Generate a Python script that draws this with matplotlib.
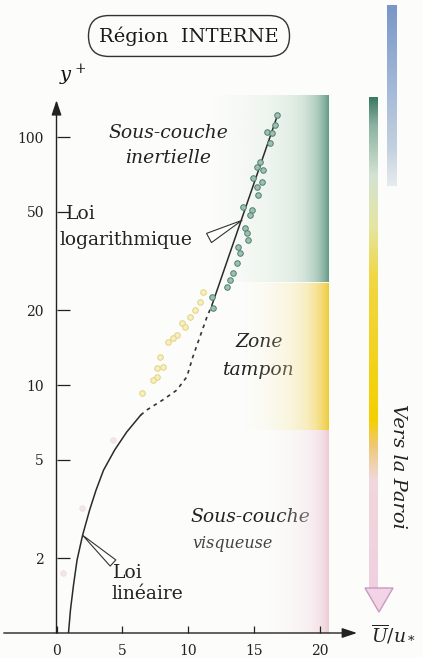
import numpy as np
import matplotlib
matplotlib.use('Agg')
from matplotlib import pyplot as plt
from matplotlib.patches import Polygon
from matplotlib.colors import to_rgb

plt.rcParams['font.family'] = ['DejaVu Serif']
plt.rcParams['mathtext.fontset'] = 'dejavuserif'

# profil : loi lineaire (trait plein)
lin_u = [0.91, 1.06, 1.29, 1.56, 1.98, 2.51, 3.00, 3.57, 4.41, 5.32, 6.39]
lin_y = [1.0, 1.24, 1.56, 1.97, 2.48, 3.13, 3.77, 4.54, 5.47, 6.46, 7.57]
# raccord zone tampon (pointilles)
buf_u = [6.39, 6.84, 8.06, 9.13, 9.89, 10.34, 10.87, 11.41, 11.79]
buf_y = [7.57, 7.93, 8.71, 9.55, 10.8, 12.97, 15.6, 18.8, 21.0]
# loi logarithmique
log_u = [11.79, 16.73]
log_y = [21.0, 121.0]

# mesures (sous-couche inertielle)
green_u = [16.73, 16.58, 15.97, 16.35, 16.20, 15.44, 15.21, 15.67, 14.90, 15.59, 15.21,
           15.29, 14.14, 14.83, 14.68, 14.30, 14.45, 14.52, 13.76, 13.92, 13.69, 13.38,
           13.16, 12.93, 11.79, 11.86]
green_y = [122.7, 111.8, 104.8, 103.8, 94.6, 79.3, 75.7, 73.6, 68.3, 65.9, 62.9,
           58.4, 52.2, 50.8, 48.5, 42.9, 41.0, 38.5, 36.0, 34.0, 31.0, 28.3,
           26.5, 24.8, 22.6, 20.4]
# mesures (zone tampon)
yellow_u = [11.10, 10.87, 10.49, 10.11, 9.51, 9.73, 9.13, 8.82, 8.44, 7.83, 8.06, 7.60, 7.60, 7.30, 6.46]
yellow_y = [23.7, 21.6, 20.1, 18.8, 17.8, 17.1, 15.9, 15.5, 14.9, 13.0, 11.8, 11.7, 10.8, 10.5, 9.3]
# mesures (sous-couche visqueuse)
pink_u = [1.90, 0.46, 4.26]
pink_y = [3.19, 1.75, 6.0]

zone_y = [1.0, 6.6, 26.0, 148.0]
xticks = [0, 5, 10, 15, 20]
yticks = [2, 5, 10, 20, 50, 100]

W, H = 423, 658
fig = plt.figure(figsize=(W / 100, H / 100), dpi=100)
fig.patch.set_facecolor('#fcfcfa')

# calque en pixels pour le decor
deco = fig.add_axes([0, 0, 1, 1])
deco.set_xlim(0, W)
deco.set_ylim(H, 0)
deco.axis('off')


def vgrad(ax, x0, x1, y0, y1, stops, alpha_stops):
    pos = np.linspace(y0, y1, 300)
    img = np.zeros((300, 1, 4))
    sp = [s[0] for s in stops]
    cols = np.array([to_rgb(s[1]) for s in stops])
    for k in range(3):
        img[:, 0, k] = np.interp(pos, sp, cols[:, k])
    img[:, 0, 3] = np.interp(pos, [a[0] for a in alpha_stops], [a[1] for a in alpha_stops])
    ax.imshow(img, extent=[x0, x1, y1, y0], aspect='auto', origin='upper',
              interpolation='bilinear', zorder=1)


vgrad(deco, 387, 397, 5, 186,
      [(5, '#7896c8'), (90, '#9fb5d6'), (186, '#d0dae2')],
      [(5, 1.0), (150, 0.9), (186, 0.5)])
vgrad(deco, 369, 378, 97, 588,
      [(97, '#3c7a62'), (125, '#8db3a2'), (175, '#d4e2d2'), (225, '#e4e6a4'),
       (275, '#f0d745'), (420, '#f4d000'), (445, '#efc872'), (480, '#f1d8dc'), (588, '#efd0e0')],
      [(97, 1.0), (588, 1.0)])
deco.add_patch(Polygon([[365, 588], [393, 588], [379, 612]], closed=True,
                       fc='#f3d4e6', ec='#c89ac0', lw=1.0, zorder=2))

deco.text(398, 466, 'Vers la Paroi', rotation=-90, style='italic', fontsize=14,
          ha='center', va='center', color='#222222')
deco.text(371, 634, r'$\overline{U}/u_*$', fontsize=13.5, ha='left', va='center', color='#222222')
deco.text(189, 36, 'Région  INTERNE', fontsize=14, ha='center', va='center', color='#1a1a1a',
          bbox=dict(boxstyle='round,pad=0.55,rounding_size=1.05', fc='none', ec='#333333', lw=1.0))
deco.text(73, 75, r'$y^+$', fontsize=14, ha='center', va='center', color='#111111')

txt = dict(fontsize=13.5, color='#222222', va='center')
deco.text(168, 133, 'Sous-couche', style='italic', ha='center', **txt)
deco.text(168, 158, 'inertielle', style='italic', ha='center', **txt)
deco.text(66, 214, 'Loi', ha='left', **txt)
deco.text(60, 240, 'logarithmique', ha='left', **txt)
deco.text(259, 342, 'Zone', style='italic', ha='center', **txt)
deco.text(259, 370, 'tampon', style='italic', ha='center', **txt)
deco.text(190, 517, 'Sous-couche', style='italic', ha='left', **txt)
deco.text(192, 543, 'visqueuse', style='italic', ha='left', fontsize=11.5, color='#444444', va='center')
deco.text(113, 573, 'Loi', ha='left', **txt)
deco.text(111, 594, 'linéaire', ha='left', **txt)

# axes principaux
x_left, x_right, y_bot, y_top = 56.5, 357, 633, 95
ax = fig.add_axes([x_left / W, (H - y_bot) / H, (x_right - x_left) / W, (y_bot - y_top) / H])
ax.set_facecolor('none')
ax.set_yscale('log')


def hband(ax, x0, x1, y0, y1, c0, c1, amax, apow, cpow):
    t = np.linspace(0, 1, 300)
    img = np.zeros((1, 300, 4))
    a, b = np.array(to_rgb(c0)), np.array(to_rgb(c1))
    m = t ** cpow
    img[0, :, :3] = a[None, :] * (1 - m[:, None]) + b[None, :] * m[:, None]
    img[0, :, 3] = amax * t ** apow
    ax.imshow(img, extent=[x0, x1, y0, y1], aspect='auto', origin='lower',
              interpolation='bilinear', zorder=0)


hband(ax, 11.8, 20.75, zone_y[2], zone_y[3], '#d6e8da', '#4f8c78', 0.95, 1.3, 7)
hband(ax, 14.0, 20.75, zone_y[1], zone_y[2], '#f6eab0', '#efc41a', 0.95, 1.6, 5)
hband(ax, 16.0, 20.75, zone_y[0], zone_y[1], '#f5e3ea', '#e9bccb', 0.85, 1.5, 6)

ax.plot(lin_u, lin_y, color='#2a2a2a', lw=1.1, zorder=3)
ax.plot(buf_u, buf_y, color='#333333', lw=1.2, ls=(0, (2.2, 2.6)), zorder=3)
ax.plot(log_u, log_y, color='#2a2a2a', lw=1.1, zorder=3)

ax.scatter(green_u, green_y, s=16, fc='#9cc0b2', ec='#4f7f6f', lw=0.7, zorder=4)
ax.scatter(yellow_u, yellow_y, s=16, fc='#f7efc4', ec='#e2d27e', lw=0.7, zorder=4)
ax.scatter(pink_u, pink_y, s=16, fc='#f3e6eb', ec='#ecdae1', lw=0.5, zorder=4)

ax.set_xlim(0, 22.8)
ax.set_ylim(zone_y[0], zone_y[3])
for s in ax.spines.values():
    s.set_visible(False)

ax.set_xticks(xticks)
ax.set_xticklabels([str(v) for v in xticks])
ax.set_yticks(yticks)
ax.set_yticklabels([str(v) for v in yticks])
ax.yaxis.set_minor_locator(matplotlib.ticker.NullLocator())
ax.tick_params(axis='y', direction='in', length=9, width=0.9, pad=9, labelsize=10,
               colors='#222222')
ax.tick_params(axis='x', direction='in', length=5, width=0.9, pad=8, labelsize=10,
               colors='#222222')

# fleches des axes
ax.annotate('', xy=(0, 141), xytext=(0, 1.0), xycoords='data', annotation_clip=False,
            arrowprops=dict(arrowstyle='-|>,head_length=0.9,head_width=0.3', color='#222222',
                            lw=1.0, shrinkA=0, shrinkB=0))
ax.annotate('', xy=(22.8, 1.0), xytext=(-4.0, 1.0), xycoords='data', annotation_clip=False,
            arrowprops=dict(arrowstyle='-|>,head_length=0.9,head_width=0.3', color='#222222',
                            lw=1.0, shrinkA=0, shrinkB=0))

# renvois
ax.annotate('', xy=(14.07, 46.2), xytext=(209, H - 238), textcoords='figure pixels',
            annotation_clip=False,
            arrowprops=dict(arrowstyle='wedge,tail_width=0.75,shrink_factor=0.5', fc='white',
                            ec='#333333', lw=0.8, shrinkA=0, shrinkB=0), zorder=5)
ax.annotate('', xy=(1.98, 2.48), xytext=(113, H - 563), textcoords='figure pixels',
            annotation_clip=False,
            arrowprops=dict(arrowstyle='wedge,tail_width=0.6,shrink_factor=0.5', fc='white',
                            ec='#333333', lw=0.8, shrinkA=0, shrinkB=0), zorder=5)

fig.savefig('out.png', dpi=100, facecolor=fig.get_facecolor())
